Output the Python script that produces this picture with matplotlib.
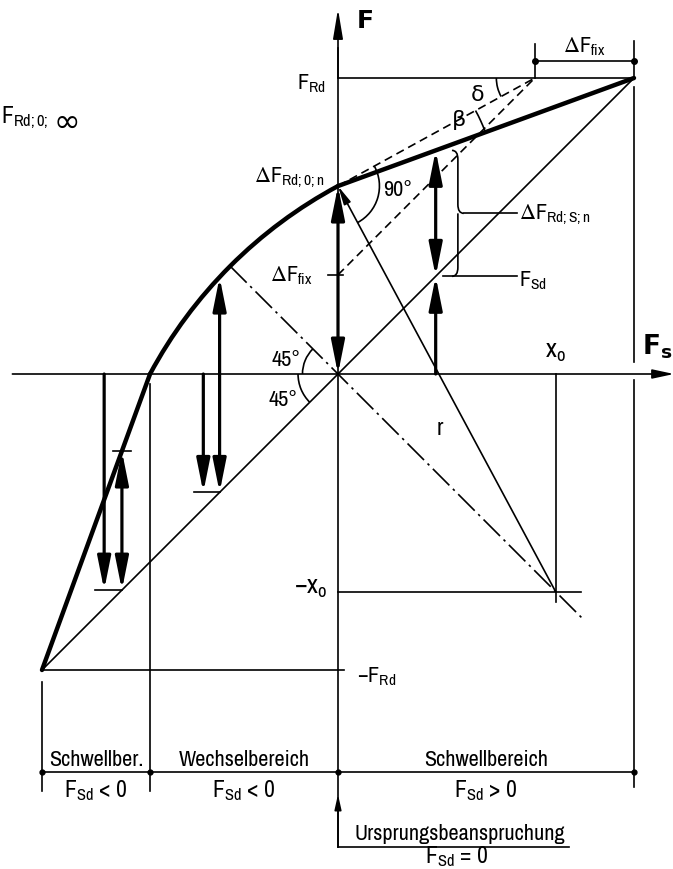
import numpy as np
import matplotlib.pyplot as plt
from matplotlib import font_manager
from matplotlib.patches import Arc, FancyArrowPatch, PathPatch
from matplotlib.path import Path

# pick a narrow font if one is installed, otherwise Liberation Sans
fonts = font_manager.fontManager.ttflist
narrow = [f.name for f in fonts if 'Narrow' in f.name or 'Condensed' in f.name]
dejavu_cond = [f for f in fonts if f.name == 'DejaVu Sans' and f.stretch in ('condensed', 'semi-condensed')]
if narrow:
    fam, stretch, fs = narrow[0], 'normal', 16
elif dejavu_cond:
    fam, stretch, fs = 'DejaVu Sans', 'condensed', 15
else:
    fam, stretch, fs = 'Liberation Sans', 'normal', 14.5

plt.rcParams['font.family'] = [fam, 'DejaVu Sans']
plt.rcParams['font.stretch'] = stretch
plt.rcParams['mathtext.fontset'] = 'custom'
plt.rcParams['mathtext.rm'] = '%s:stretch=%s' % (fam, stretch)
plt.rcParams['mathtext.it'] = '%s:stretch=%s' % (fam, stretch)
plt.rcParams['mathtext.bf'] = '%s:bold:stretch=%s' % (fam, stretch)
plt.rcParams['mathtext.default'] = 'regular'

# values of the diagram, all in units of F_Rd
F_Rd = 1.0
dF_fix = 0.335
dF_Rd0n = 0.635
x_o = 0.735

# load cases (Schwellber. < 0, Wechselbereich, Schwellbereich > 0)
case_x = [-0.73, -0.40, 0.33]        # x of the range arrow
case_mean_x = [-0.79, -0.455, 0.33]  # x of the F_Sd arrow

region_edges = [-F_Rd, -dF_Rd0n, 0.0, F_Rd]
region_names = ['Schwellber.', 'Wechselbereich', 'Schwellbereich']
region_conds = [r'$F_{Sd}$ < 0', r'$F_{Sd}$ < 0', r'$F_{Sd}$ > 0']

# line styles
thin = 1.2
thick = 3.2
arrw = 2.3
dash = (0, (5, 3))
dashdot = (0, (14, 3, 1.5, 3))

r = np.hypot(x_o, dF_Rd0n + x_o)


def upper(x):
    if x <= -dF_Rd0n:
        return (x + dF_Rd0n) / (F_Rd - dF_Rd0n) * F_Rd
    if x <= 0:
        return -x_o + np.sqrt(r**2 - (x - x_o)**2)
    return dF_Rd0n + (F_Rd - dF_Rd0n) * x / F_Rd


def arrow(ax, p0, p1, style='-|>', lw=arrw, hl=20, hw=4.0):
    a = FancyArrowPatch(p0, p1, arrowstyle='%s,head_length=%g,head_width=%g' % (style, hl, hw),
                        mutation_scale=1, lw=lw, color='black', shrinkA=0, shrinkB=0)
    ax.add_patch(a)


fig = plt.figure(figsize=(6.73, 8.70), dpi=100)
ax = fig.add_axes([0, 0, 1, 1])
ax.set_xlim(-338 / 296, 335 / 296)
ax.set_ylim(-495 / 296, 375 / 296)
ax.axis('off')

k = dict(color='black', lw=thin)

# axes
arrow(ax, (-1.10, 0), (1.135, 0), lw=thin, hl=13, hw=2.8)
ax.plot([0, 0], [-1.598, 1.10], **k)
arrow(ax, (0, 1.0), (0, 1.233), lw=thin, hl=18, hw=3.0)
ax.text(0.062, 1.195, 'F', fontsize=18, fontweight='bold', family='DejaVu Sans', va='center', ha='left')
ax.text(1.13, 0.095, r'$\mathbf{F_s}$', fontsize=19, math_fontfamily='dejavusans',
        va='center', ha='right')

# 45 degree line and limit lines
ax.plot([-F_Rd, F_Rd], [-F_Rd, F_Rd], **k)
ax.plot([0, F_Rd], [F_Rd, F_Rd], **k)
ax.plot([-F_Rd, 0.02], [-F_Rd, -F_Rd], **k)

# thick upper limit curve
ax.plot([-F_Rd, -dF_Rd0n], [-F_Rd, 0], color='black', lw=thick, solid_capstyle='round')
t1 = np.degrees(np.arctan2(dF_Rd0n + x_o, -x_o))
t2 = np.degrees(np.arctan2(x_o, -dF_Rd0n - x_o))
ax.add_patch(Arc((x_o, -x_o), 2 * r, 2 * r, theta1=t1, theta2=t2, color='black', lw=thick))
ax.plot([0, F_Rd], [dF_Rd0n, F_Rd], color='black', lw=thick, solid_capstyle='round')

# construction lines
ax.plot([0, F_Rd - dF_fix], [dF_Rd0n, F_Rd], color='black', lw=thin, ls=dash)
ax.plot([0, F_Rd - dF_fix], [dF_fix, F_Rd], color='black', lw=thin, ls=dash)
xm = x_o - r / np.sqrt(2)
ax.plot([xm, 0.83], [-xm, -0.83], color='black', lw=thin, ls=dashdot)
ax.plot([xm - 0.03, xm + 0.03], [-xm - 0.03, -xm + 0.03], **k)
arrow(ax, (x_o, -x_o), (0, dF_Rd0n), lw=thin, hl=11, hw=2.2)
ax.text(0.345, -0.18, 'r', fontsize=fs + 1, ha='center', va='center')
ax.plot([x_o, x_o], [0, -0.77], **k)
ax.plot([0, 0.82], [-x_o, -x_o], **k)
ax.text(x_o, 0.075, r'$x_o$', fontsize=fs + 3, ha='center', va='center')
ax.text(-0.035, -0.72, r'$-x_o$', fontsize=fs + 3, ha='right', va='center')
ax.text(0.065, -1.02, r'$-F_{Rd}$', fontsize=fs, ha='left', va='center')

# angle marks
ang_dash = np.degrees(np.arctan2(F_Rd - dF_Rd0n, F_Rd - dF_fix))
ang_line = np.degrees(np.arctan2(F_Rd - dF_Rd0n, F_Rd))
ang_r = np.degrees(np.arctan2(-x_o - dF_Rd0n, x_o))
ax.add_patch(Arc((0, dF_Rd0n), 0.28, 0.28, theta1=ang_r, theta2=ang_dash, color='black', lw=thin))
ax.text(0.20, 0.625, '90°', fontsize=fs, ha='center', va='center')
ax.add_patch(Arc((0, dF_Rd0n), 1.06, 1.06, theta1=ang_line, theta2=ang_dash, color='black', lw=thin))
ax.text(0.41, 0.86, 'β', fontsize=fs, ha='center', va='center')
ax.add_patch(Arc((F_Rd - dF_fix, F_Rd), 0.26, 0.26, theta1=180, theta2=180 + ang_dash, color='black', lw=thin))
ax.text(0.473, 0.945, 'δ', fontsize=fs, ha='center', va='center')
ax.add_patch(Arc((0, 0), 0.24, 0.24, theta1=135, theta2=180, color='black', lw=thin))
ax.add_patch(Arc((0, 0), 0.27, 0.27, theta1=180, theta2=225, color='black', lw=thin))
ax.text(-0.175, 0.05, '45°', fontsize=fs, ha='center', va='center')
ax.text(-0.187, -0.085, '45°', fontsize=fs, ha='center', va='center')

# labels on the F axis
ax.text(-0.04, 0.985, r'$F_{Rd}$', fontsize=fs, ha='right', va='center')
ax.text(-1.138, 0.87, r'$F_{Rd;0;}$', fontsize=fs + 1, ha='left', va='center')
ax.text(-0.96, 0.85, '∞', fontsize=fs + 7, ha='left', va='center', family='DejaVu Sans')
ax.text(-0.045, 0.665, r'$\Delta F_{Rd;0;n}$', fontsize=fs, ha='right', va='center')
ax.plot([-0.035, 0.017], [dF_fix, dF_fix], **k)
ax.text(-0.085, dF_fix, r'$\Delta F_{fix}$', fontsize=fs, ha='right', va='center')
arrow(ax, (0, 0), (0, dF_Rd0n), style='<|-|>')

# Delta F_fix dimension at the top
yd = 1.057
ax.plot([F_Rd - dF_fix, F_Rd], [yd, yd], **k)
ax.plot([F_Rd - dF_fix] * 2, [F_Rd, 1.115], **k)
ax.plot([F_Rd] * 2, [F_Rd, 1.125], **k)
ax.plot([F_Rd - dF_fix, F_Rd], [yd, yd], 'o', color='black', ms=4)
ax.text(F_Rd - dF_fix / 2, 1.11, r'$\Delta F_{fix}$', fontsize=fs, ha='center', va='center')

# load case arrows
for xa, xmn in zip(case_x, case_mean_x):
    ys = xa
    yu = upper(xa)
    if xa > 0:
        arrow(ax, (xa, 0), (xa, ys))
        arrow(ax, (xa, ys), (xa, yu), style='<|-|>')
    else:
        arrow(ax, (xmn, 0), (xmn, ys))
        arrow(ax, (xa, yu), (xa, ys), style='<|-|>')
        ax.plot([xmn - 0.03, xa], [ys, ys], **k)
ax.plot([case_x[0] - 0.03, case_x[0] + 0.03], [upper(case_x[0])] * 2, **k)

# brace for Delta F_Rd;S;n and leaders
yb0, yb1 = case_x[2], upper(case_x[2])
ym = (yb0 + yb1) / 2
xb, xt = 0.385, 0.425
verts = [(xb, yb1), (xb + 0.02, yb1), (xb + 0.02, yb1 - 0.03),
         (xb + 0.02, ym + 0.03), (xb + 0.02, ym), (xt, ym),
         (xb + 0.02, ym), (xb + 0.02, ym - 0.03),
         (xb + 0.02, yb0 + 0.03), (xb + 0.02, yb0), (xb, yb0)]
codes = [Path.MOVETO, Path.CURVE3, Path.CURVE3, Path.LINETO, Path.CURVE3, Path.CURVE3,
         Path.MOVETO, Path.CURVE3, Path.LINETO, Path.CURVE3, Path.CURVE3]
ax.add_patch(PathPatch(Path(verts, codes), fill=False, lw=thin, color='black'))
ax.plot([xt, 0.605], [ym, ym], **k)
ax.text(0.61, ym, r'$\Delta F_{Rd;S;n}$', fontsize=fs, ha='left', va='center')
ax.plot([0.355, 0.605], [yb0, yb0], **k)
ax.text(0.61, yb0 - 0.01, r'$F_{Sd}$', fontsize=fs, ha='left', va='center')

# region boundaries and dimension line
yr = -1.345
ax.plot([-F_Rd, -F_Rd], [-1.04, -1.41], **k)
ax.plot([-dF_Rd0n, -dF_Rd0n], [-0.035, -1.41], **k)
ax.plot([F_Rd, F_Rd], [0.97, 0.04], **k)
ax.plot([F_Rd, F_Rd], [-0.02, -1.395], **k)
ax.plot([-F_Rd, F_Rd], [yr, yr], **k)
ax.plot(region_edges, [yr] * 4, 'o', color='black', ms=3.5)
for i, name in enumerate(region_names):
    xc = (region_edges[i] + region_edges[i + 1]) / 2
    ax.text(xc, yr + 0.045, name, fontsize=fs, ha='center', va='center')
    ax.text(xc, yr - 0.06, region_conds[i], fontsize=fs + 1, ha='center', va='center')

# Ursprungsbeanspruchung
arrow(ax, (0, -1.598), (0, -1.42), lw=thin, hl=9, hw=2.0)
ax.plot([0, 0.78], [-1.598, -1.598], **k)
ax.text(0.41, -1.55, 'Ursprungsbeanspruchung', fontsize=fs, ha='center', va='center')
ax.text(0.40, -1.627, r'$F_{Sd}$ = 0', fontsize=fs + 1, ha='center', va='center')

fig.savefig('out.png', dpi=100)
